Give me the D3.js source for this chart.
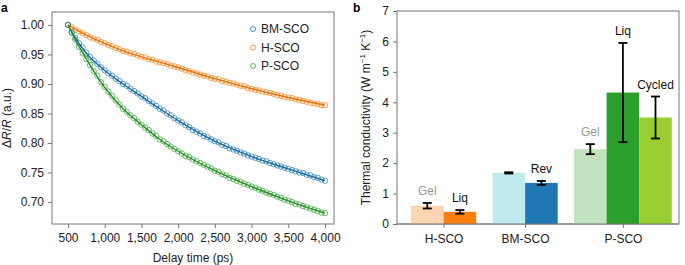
<!DOCTYPE html>
<html><head><meta charset="utf-8">
<script src="https://cdn.jsdelivr.net/npm/d3@7/dist/d3.min.js"></script>
<style>
body{margin:0;background:#fff;}
text{font-family:"Liberation Sans",Arial,sans-serif;}
</style></head>
<body><svg id="c" width="685" height="265"></svg>
<script>
// ---------- Panel a data ----------
const delayTimes = d3.range(500, 4001, 50); // ps, measurement times
const seriesNames = ["BM-SCO", "H-SCO", "P-SCO"];
const bmData = [1.000,0.988,0.978,0.969,0.962,0.953,0.946,0.940,0.934,0.928,0.923,0.918,0.914,0.909,0.905,0.900,0.897,0.892,0.888,0.884,0.879,0.876,0.871,0.867,0.863,0.858,0.855,0.850,0.847,0.842,0.838,0.835,0.830,0.827,0.822,0.819,0.816,0.812,0.810,0.806,0.803,0.801,0.797,0.795,0.791,0.789,0.787,0.784,0.782,0.779,0.777,0.775,0.773,0.770,0.769,0.766,0.764,0.762,0.760,0.758,0.756,0.754,0.752,0.750,0.749,0.746,0.745,0.742,0.741,0.738,0.736];
const hData = [1.000,0.996,0.992,0.989,0.986,0.983,0.979,0.977,0.975,0.971,0.969,0.966,0.964,0.961,0.959,0.956,0.955,0.952,0.951,0.948,0.946,0.945,0.942,0.941,0.938,0.937,0.935,0.934,0.931,0.930,0.928,0.926,0.923,0.922,0.919,0.918,0.916,0.914,0.913,0.910,0.909,0.908,0.905,0.904,0.902,0.901,0.899,0.897,0.896,0.893,0.892,0.890,0.889,0.887,0.886,0.885,0.883,0.881,0.880,0.878,0.877,0.876,0.874,0.873,0.871,0.870,0.868,0.867,0.866,0.864,0.864];
const pData = [1.000,0.987,0.975,0.963,0.952,0.942,0.932,0.922,0.914,0.903,0.895,0.887,0.880,0.872,0.865,0.858,0.853,0.847,0.842,0.836,0.831,0.826,0.822,0.816,0.812,0.806,0.803,0.798,0.794,0.790,0.786,0.782,0.778,0.776,0.772,0.769,0.766,0.763,0.760,0.757,0.753,0.751,0.747,0.745,0.741,0.739,0.736,0.734,0.731,0.729,0.726,0.724,0.721,0.719,0.716,0.714,0.712,0.709,0.707,0.704,0.702,0.700,0.697,0.696,0.693,0.691,0.689,0.687,0.685,0.682,0.681];
// fitted curves
const fitTimes = [500,600,750,1000,1250,1500,1750,2000,2500,3000,3500,4000];
const fitBM = [1.000,0.978,0.952,0.923,0.900,0.879,0.858,0.838,0.803,0.777,0.756,0.736];
const fitH  = [1.000,0.993,0.983,0.969,0.956,0.946,0.937,0.928,0.909,0.892,0.877,0.864];
const fitP  = [1.000,0.975,0.942,0.894,0.858,0.831,0.806,0.786,0.753,0.726,0.702,0.681];
const xTicksA = [500,1000,1500,2000,2500,3000,3500,4000];
const yTicksA = [0.70,0.75,0.80,0.85,0.90,0.95,1.00];

// ---------- Panel b data ----------
const groups = ["H-SCO", "BM-SCO", "P-SCO"];
const barGroup = ["H-SCO","H-SCO","BM-SCO","BM-SCO","P-SCO","P-SCO","P-SCO"];
const barSlot  = [0, 1, 2.5, 3.5, 5, 6, 7];
const barLabels = ["Gel","Liq","","Rev","Gel","Liq","Cycled"];
const barValues = [0.60, 0.40, 1.68, 1.35, 2.46, 4.32, 3.50];
const barErrors = [0.09, 0.06, 0.02, 0.065, 0.165, 1.63, 0.69];
const groupCenterSlot = [1, 3.5, 6.5];
const yTicksB = [0,1,2,3,4,5,6,7];

const colors = {"BM-SCO":"#1f77b4","H-SCO":"#ff7f0e","P-SCO":"#2ca02c"};
const barColors = ["#fdd5b2","#ff7f0e","#bfeaf0","#1f77b4","#c2e3bf","#2ca02c","#9acd32"];
const labelColors = ["#999","#111","#111","#111","#999","#111","#111"];

const svg = d3.select("#c");
const axisCol = "#777";

// ================= Panel a =================
const A = {l:52, r:334, t:12, b:224};
const xA = d3.scaleLinear().domain([282, 4122]).range([A.l, A.r]);
const yA = d3.scaleLinear().domain([0.6627, 1.022]).range([A.b, A.t]);
const gA = svg.append("g");
gA.append("rect").attr("x",A.l).attr("y",A.t).attr("width",A.r-A.l).attr("height",A.b-A.t)
  .attr("fill","none").attr("stroke",axisCol).attr("stroke-width",1);

const xAxisA = d3.axisBottom(xA).tickValues(xTicksA).tickSize(4).tickPadding(5)
  .tickFormat(d3.format(","));
const ax = gA.append("g").attr("transform",`translate(0,${A.b})`).call(xAxisA);
const yAxisA = d3.axisLeft(yA).tickValues(yTicksA).tickSize(4).tickPadding(4)
  .tickFormat(d3.format(".2f"));
const ay = gA.append("g").attr("transform",`translate(${A.l},0)`).call(yAxisA);
[ax, ay].forEach(g=>{
  g.select(".domain").remove();
  g.selectAll("line").attr("stroke",axisCol);
  g.selectAll("text").attr("font-size",12).attr("fill","#222").attr("font-family","Liberation Sans, Arial, sans-serif");
});

const seriesData = {"BM-SCO":bmData, "H-SCO":hData, "P-SCO":pData};
const fitData = {"BM-SCO":fitBM, "H-SCO":fitH, "P-SCO":fitP};
const drawOrder = ["H-SCO","BM-SCO","P-SCO"];
const lineGen = d3.line().x(d=>xA(d[0])).y(d=>yA(d[1])).curve(d3.curveMonotoneX);
drawOrder.forEach(name=>{
  const pts = delayTimes.map((t,i)=>[t, seriesData[name][i]]);
  gA.append("g").selectAll("circle").data(pts).join("circle")
    .attr("cx",d=>xA(d[0])).attr("cy",d=>yA(d[1])).attr("r",2.7)
    .attr("fill","none").attr("stroke",colors[name]).attr("stroke-width",1).attr("stroke-opacity",0.7);
});
drawOrder.forEach(name=>{
  const fpts = fitTimes.map((t,i)=>[t, fitData[name][i]]);
  gA.append("path").datum(fpts).attr("d",lineGen).attr("fill","none")
    .attr("stroke",d3.color(colors[name]).darker(0.3)).attr("stroke-width",1.4);
});
// legend
seriesNames.forEach((name,i)=>{
  const y = 29 + i*18.5;
  gA.append("circle").attr("cx",253).attr("cy",y).attr("r",2.5).attr("fill","none")
    .attr("stroke",colors[name]).attr("stroke-width",1).attr("stroke-opacity",0.8);
  gA.append("text").attr("x",261).attr("y",y+4.3).attr("font-size",12).attr("fill","#222").text(name);
});
// axis titles
gA.append("text").attr("x",(A.l+A.r)/2).attr("y",262).attr("text-anchor","middle")
  .attr("font-size",12).attr("fill","#222").text("Delay time (ps)");
const yt = gA.append("text").attr("transform",`translate(11,${(A.t+A.b)/2}) rotate(-90)`)
  .attr("text-anchor","middle").attr("font-size",12).attr("fill","#222");
yt.append("tspan").text("Δ");
yt.append("tspan").attr("font-style","italic").text("R");
yt.append("tspan").text("/");
yt.append("tspan").attr("font-style","italic").text("R");
yt.append("tspan").text(" (a.u.)");
gA.append("text").attr("x",1).attr("y",12).attr("font-size",12).attr("font-weight","bold").text("a");

// ================= Panel b =================
const B = {l:397, r:679, t:11, b:224};
const slotW = 32.6;
const xB = d3.scaleLinear().domain([0, 8]).range([411, 411 + 8*slotW]);
const yB = d3.scaleLinear().domain([0, 7]).range([B.b, B.t]);
const gB = svg.append("g");
gB.append("rect").attr("x",B.l).attr("y",B.t).attr("width",B.r-B.l).attr("height",B.b-B.t)
  .attr("fill","none").attr("stroke",axisCol).attr("stroke-width",1);
const yAxisB = d3.axisLeft(yB).tickValues(yTicksB).tickSize(4).tickPadding(4).tickFormat(d3.format("d"));
const by = gB.append("g").attr("transform",`translate(${B.l},0)`).call(yAxisB);
const xAxisB = d3.axisBottom(xB).tickValues(groupCenterSlot).tickSize(4).tickPadding(6)
  .tickFormat((d,i)=>groups[i]);
const bx = gB.append("g").attr("transform",`translate(0,${B.b})`).call(xAxisB);
[bx, by].forEach(g=>{
  g.select(".domain").remove();
  g.selectAll("line").attr("stroke",axisCol);
  g.selectAll("text").attr("font-size",12).attr("fill","#222").attr("font-family","Liberation Sans, Arial, sans-serif");
});
const bars = barValues.map((v,i)=>({v, e:barErrors[i], s:barSlot[i], c:barColors[i], lab:barLabels[i], lc:labelColors[i]}));
gB.append("g").selectAll("rect").data(bars).join("rect")
  .attr("x",d=>xB(d.s)).attr("width",xB(1)-xB(0))
  .attr("y",d=>yB(d.v)).attr("height",d=>yB(0)-yB(d.v)).attr("fill",d=>d.c);
// redraw bottom frame line over bars
gB.append("line").attr("x1",B.l).attr("x2",B.r).attr("y1",B.b).attr("y2",B.b).attr("stroke",axisCol);
const eg = gB.append("g").attr("stroke","#000").attr("stroke-width",1.8);
bars.forEach(d=>{
  const cx = xB(d.s+0.5);
  eg.append("line").attr("x1",cx).attr("x2",cx).attr("y1",yB(d.v-d.e)).attr("y2",yB(d.v+d.e));
  eg.append("line").attr("x1",cx-4.5).attr("x2",cx+4.5).attr("y1",yB(d.v-d.e)).attr("y2",yB(d.v-d.e));
  eg.append("line").attr("x1",cx-4.5).attr("x2",cx+4.5).attr("y1",yB(d.v+d.e)).attr("y2",yB(d.v+d.e));
});
gB.append("g").selectAll("text").data(bars.filter(d=>d.lab)).join("text")
  .attr("x",d=>xB(d.s+0.5)).attr("y",d=>yB(d.v+d.e)-8).attr("text-anchor","middle")
  .attr("font-size",12).attr("fill",d=>d.lc).text(d=>d.lab);
const ybt = gB.append("text").attr("transform",`translate(370,${(B.t+B.b)/2}) rotate(-90)`)
  .attr("text-anchor","middle").attr("font-size",12).attr("fill","#222");
ybt.append("tspan").text("Thermal conductivity (W m");
ybt.append("tspan").attr("font-size",8).attr("dy",-5).text("−1");
ybt.append("tspan").attr("dy",5).text(" K");
ybt.append("tspan").attr("font-size",8).attr("dy",-5).text("−1");
ybt.append("tspan").attr("dy",5).text(")");
gB.append("text").attr("x",353).attr("y",12).attr("font-size",12).attr("font-weight","bold").text("b");
</script></body></html>
